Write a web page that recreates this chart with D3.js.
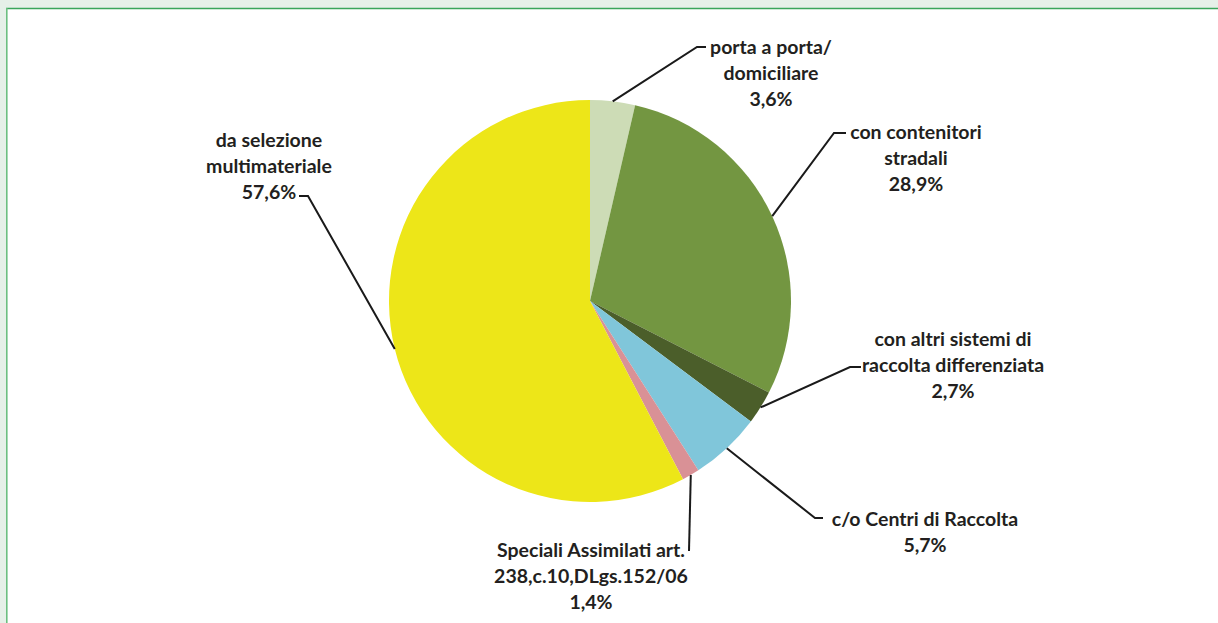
<!DOCTYPE html>
<html>
<head>
<meta charset="utf-8">
<script src="https://cdn.jsdelivr.net/npm/d3@7"></script>
<style>
  html, body { margin: 0; padding: 0; background: #e6f0e8; }
  #chart { width: 1218px; height: 623px; }
  .slice-label { font-family: Lato, "Open Sans", sans-serif; font-weight: 700; font-size: 19.5px; fill: #231f20; }
  .leader { fill: none; stroke: #1a1a1a; stroke-width: 2; }
</style>
</head>
<body>
<div id="chart"></div>
<script>
const width = 1218;
const height = 623;

// data (clockwise from 12 o'clock)
const categories = [
  ["porta a porta/", "domiciliare"],
  ["con contenitori", "stradali"],
  ["con altri sistemi di", "raccolta differenziata"],
  ["c/o Centri di Raccolta"],
  ["Speciali Assimilati art.", "238,c.10,DLgs.152/06"],
  ["da selezione", "multimateriale"],
];
const values = [3.6, 28.9, 2.7, 5.7, 1.4, 57.6];
const valueLabels = ["3,6%", "28,9%", "2,7%", "5,7%", "1,4%", "57,6%"];

const sliceColors = ["#cddcb6", "#739641", "#4b5e2a", "#80c6da", "#d99196", "#ede618"];

// label placement: elbow of the leader, end of the leader, label centre x, first line centre y
const labelLayout = [
  { elbow: [697, 47], end: [706, 47], x: 771, y: 47 },
  { elbow: [834, 133], end: [846, 133], x: 916, y: 132 },
  { elbow: [850, 367], end: [861, 367], x: 953, y: 339 },
  { elbow: [815, 518], end: [823, 518], x: 925, y: 519 },
  { elbow: [689, 551], end: [689, 551], x: 591, y: 550 },
  { elbow: [308, 196], end: [299, 196], x: 269, y: 140 },
];

const LINE_HEIGHT = 26;
const cx = 590;
const cy = 301;
const radius = 201;

const svg = d3.select("#chart")
  .append("svg")
  .attr("width", width)
  .attr("height", height);

// panel with green frame on top and left
svg.append("rect")
  .attr("x", 7).attr("y", 8)
  .attr("width", width - 7).attr("height", height - 8)
  .attr("fill", "#ffffff");

svg.append("line")
  .attr("x1", 6).attr("x2", width).attr("y1", 8.5).attr("y2", 8.5)
  .attr("stroke", "#3aa55a").attr("stroke-width", 1.6);

svg.append("line")
  .attr("x1", 6.8).attr("x2", 6.8).attr("y1", 8).attr("y2", height)
  .attr("stroke", "#6cbf80").attr("stroke-width", 1.6);

const pie = d3.pie().sort(null).value(d => d);
const arcs = pie(values);

const arc = d3.arc().innerRadius(0).outerRadius(radius);
const edgeArc = d3.arc().innerRadius(radius).outerRadius(radius);

const g = svg.append("g").attr("transform", `translate(${cx}, ${cy})`);

g.selectAll(".slice")
  .data(arcs)
  .join("path")
  .attr("class", "slice")
  .attr("fill", (d, i) => sliceColors[i])
  .attr("d", arc);

// leader lines from slice edge to label
svg.selectAll(".leader")
  .data(arcs)
  .join("polyline")
  .attr("class", "leader")
  .attr("points", (d, i) => {
    const [ex, ey] = edgeArc.centroid(d);
    const lay = labelLayout[i];
    return [[cx + ex, cy + ey], lay.elbow, lay.end].map(p => p.join(",")).join(" ");
  });

// labels
const labels = svg.selectAll(".slice-label")
  .data(arcs)
  .join("text")
  .attr("class", "slice-label")
  .attr("text-anchor", "middle");

labels.each(function(d, i) {
  const lay = labelLayout[i];
  const lines = categories[i].concat(valueLabels[i]);
  d3.select(this).selectAll("tspan")
    .data(lines)
    .join("tspan")
    .attr("x", lay.x)
    .attr("y", (t, j) => lay.y + j * LINE_HEIGHT + 7)
    .text(t => t);
});
</script>
</body>
</html>
